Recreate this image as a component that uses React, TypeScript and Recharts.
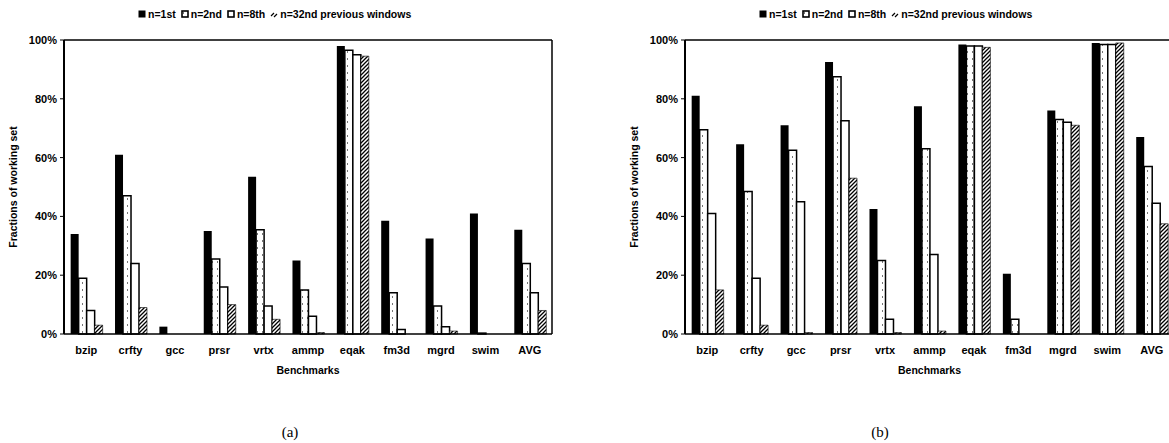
import { BarChart, Bar, XAxis, YAxis, Legend } from "recharts";

// benchmarks on the x axis
const categories = ["bzip", "crfty", "gcc", "prsr", "vrtx", "ammp", "eqak", "fm3d", "mgrd", "swim", "AVG"];
const yTicks = [0, 20, 40, 60, 80, 100];

// (a) fractions of working set, %
const firstA = [34, 61, 2.5, 35, 53.5, 25, 98, 38.5, 32.5, 41, 35.5];
const secondA = [19, 47, 0, 25.5, 35.5, 15, 96.5, 14, 9.5, 0.3, 24];
const eighthA = [8, 24, 0, 16, 9.5, 6, 95, 1.5, 2.5, 0, 14];
const thirtySecondA = [3, 9, 0, 10, 5, 0.5, 94.5, 0, 1, 0, 8];

// (b)
const firstB = [81, 64.5, 71, 92.5, 42.5, 77.5, 98.5, 20.5, 76, 99, 67];
const secondB = [69.5, 48.5, 62.5, 87.5, 25, 63, 98, 5, 73, 98.5, 57];
const eighthB = [41, 19, 45, 72.5, 5, 27, 98, 0, 72, 98.5, 44.5];
const thirtySecondB = [15, 3, 0.5, 53, 0.5, 1, 97.5, 0, 71, 99, 37.5];

const SERIES = [
  { key: "n1", label: "n=1st" },
  { key: "n2", label: "n=2nd" },
  { key: "n8", label: "n=8th" },
  { key: "n32", label: "n=32nd previous windows" },
];

const buildRows = (s1: number[], s2: number[], s3: number[], s4: number[]) =>
  categories.map((name, i) => ({ name, n1: s1[i], n2: s2[i], n8: s3[i], n32: s4[i] }));

const rowsA = buildRows(firstA, secondA, eighthA, thirtySecondA);
const rowsB = buildRows(firstB, secondB, eighthB, thirtySecondB);

const boundaryTicks = categories.map((_, i) => i).concat(categories.length);

const FONT = '"Liberation Sans", Arial, sans-serif';
const tickStyle = { fill: "#000", fontSize: 11, fontWeight: 700, fontFamily: FONT };
const titleStyle = { fill: "#000", fontSize: 10.5, fontWeight: 700, fontFamily: FONT };

function LegendIcon({ k, id }: { k: string; id: string }) {
  if (k === "n1") return <svg width={8} height={8}><rect x={0.5} y={0.5} width={7} height={7} fill="#000" /></svg>;
  if (k === "n32")
    return (
      <svg width={8} height={8}>
        <path d="M1,6 L4,3 M4,7 L7,4" stroke="#000" strokeWidth={1.2} />
      </svg>
    );
  return (
    <svg width={8} height={8}>
      <rect x={1} y={1} width={6} height={6} fill={k === "n2" ? `url(#${id}-dots)` : "#fff"} stroke="#000" strokeWidth={1.6} />
    </svg>
  );
}

function Panel({ rows, id, width, marginLeft, marginRight, legendLeft }: any) {
  return (
    <BarChart
      width={width}
      height={400}
      data={rows}
      margin={{ top: 39, right: marginRight, left: marginLeft, bottom: 64 }}
      barCategoryGap="15%"
      barGap={0}
    >
      <defs>
        <pattern id={`${id}-hatch`} width={4} height={4} patternUnits="userSpaceOnUse">
          <rect width={4} height={4} fill="#fff" />
          <path d="M-1,1 l2,-2 M0,4 l4,-4 M3,5 l2,-2" stroke="#000" strokeWidth={1.3} />
        </pattern>
        <pattern id={`${id}-dots`} width={5} height={7} patternUnits="userSpaceOnUse">
          <rect width={5} height={7} fill="#fff" />
          <rect x={2} y={2} width={1} height={2} fill="#777" />
        </pattern>
      </defs>
      <XAxis
        dataKey="name"
        height={1}
        tickLine={false}
        tickSize={4}
        tickMargin={8}
        interval={0}
        tick={tickStyle}
        axisLine={{ stroke: "#000", strokeWidth: 1.5 }}
        label={{ value: "Benchmarks", position: "bottom", offset: 32, style: titleStyle }}
      />
      <XAxis
        xAxisId="bounds"
        type="number"
        domain={[0, categories.length]}
        ticks={boundaryTicks}
        allowDataOverflow
        tick={false}
        tickSize={4}
        tickLine={{ stroke: "#000", strokeWidth: 1 }}
        axisLine={false}
        height={1}
        stroke="#000"
      />
      <XAxis xAxisId="top" dataKey="name" orientation="top" height={1} tick={false} tickLine={false} axisLine={{ stroke: "#000", strokeWidth: 1.5 }} />
      <YAxis
        domain={[0, 100]}
        ticks={yTicks}
        width={64}
        tickSize={4}
        tickMargin={3}
        tickFormatter={(v: number) => `${v}%`}
        tick={tickStyle}
        axisLine={{ stroke: "#000", strokeWidth: 2 }}
        tickLine={{ stroke: "#000" }}
        label={{
          value: "Fractions of working set",
          angle: -90,
          position: "insideLeft",
          offset: 13,
          style: { ...titleStyle, textAnchor: "middle" },
        }}
      />
      <YAxis yAxisId="right" orientation="right" domain={[0, 100]} width={1} tick={false} tickLine={false} axisLine={{ stroke: "#000", strokeWidth: 1.5 }} />
      <Legend
        verticalAlign="middle"
        layout="horizontal"
        wrapperStyle={{ top: 8, left: legendLeft, width: "auto" }}
        content={() => (
          <div style={{ display: "flex", alignItems: "center", gap: 5, fontFamily: FONT, fontSize: 10.5, fontWeight: 700, whiteSpace: "nowrap" }}>
            {SERIES.map((s) => (
              <span key={s.key} style={{ display: "flex", alignItems: "center", gap: 2 }}>
                <LegendIcon k={s.key} id={id} />
                {s.label}
              </span>
            ))}
          </div>
        )}
      />
      <Bar dataKey="n1" fill="#000" isAnimationActive={false} />
      <Bar dataKey="n2" fill={`url(#${id}-dots)`} stroke="#000" strokeWidth={1.5} isAnimationActive={false} />
      <Bar dataKey="n8" fill="#fff" stroke="#000" strokeWidth={1.5} isAnimationActive={false} />
      <Bar dataKey="n32" fill={`url(#${id}-hatch)`} stroke="#000" strokeWidth={0.6} isAnimationActive={false} />
    </BarChart>
  );
}

export default function App() {
  const caption = { position: "absolute" as const, top: 424, fontFamily: '"Liberation Serif", serif', fontSize: 15, width: 40, textAlign: "center" as const };
  return (
    <div style={{ position: "absolute", left: 0, top: 0, width: 1169, height: 443, overflow: "hidden", background: "#fff" }}>
      <div style={{ position: "absolute", left: 0, top: 0 }}>
        <Panel rows={rowsA} id="pa" width={585} marginLeft={0} marginRight={32} legendLeft={138} />
      </div>
      <div style={{ position: "absolute", left: 585, top: 0 }}>
        <Panel rows={rowsB} id="pb" width={600} marginLeft={36} marginRight={10} legendLeft={174} />
      </div>
      <div style={{ ...caption, left: 270 }}>(a)</div>
      <div style={{ ...caption, left: 860 }}>(b)</div>
    </div>
  );
}
